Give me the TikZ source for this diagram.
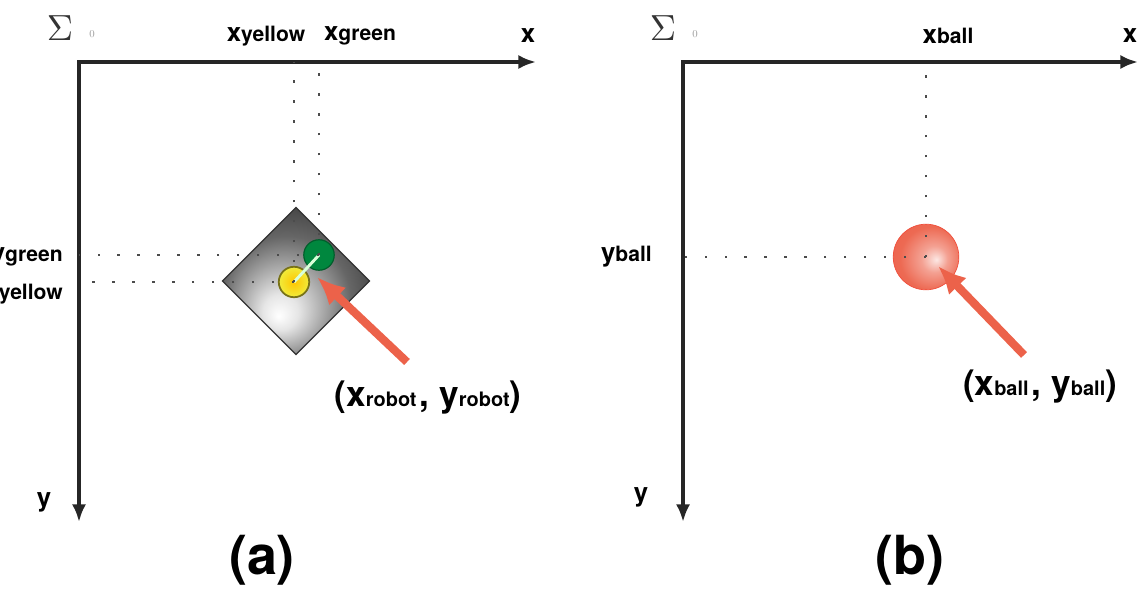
\documentclass[tikz,border=0pt]{standalone}
\usepackage{fontspec}
\setsansfont{TeX Gyre Heros}
\usetikzlibrary{arrows.meta,shapes.geometric}
\definecolor{ptred}{RGB}{236,98,74}
\definecolor{mkgreen}{RGB}{0,135,62}
\definecolor{mkyellow}{RGB}{240,236,60}
\pgfdeclareradialshading{robotshade}{\pgfpoint{-6bp}{-12bp}}{color(0bp)=(white); color(6bp)=(black!10); color(22bp)=(black!60); color(40bp)=(black!88); color(50bp)=(black!95)}
\pgfdeclareradialshading{ballshade}{\pgfpoint{8bp}{-2bp}}{color(0bp)=(ptred!15!white); color(10bp)=(ptred!60); color(24bp)=(ptred!95); color(50bp)=(ptred!85!red)}
\newcommand\axlbl[2]{{\fontsize{22}{24}\selectfont #1}{\fontsize{18}{19}\selectfont #2}}
\newcommand\ptlbl[2]{{\fontsize{30}{32}\selectfont #1}{\fontsize{17}{18}\selectfont #2}}

\begin{document}
\begin{tikzpicture}[x=0.03cm, y=-0.03cm, >={Latex[length=15pt,width=12pt]},
  axis/.style={line width=3.2pt, <->, black!85},
  guide/.style={line width=2.2pt, black!70, dash pattern=on 2pt off 15pt},
  pointer/.style={line width=7pt, ptred, -{Latex[length=24pt,width=21pt]}},
  every node/.style={font=\sffamily\bfseries, inner sep=0pt}]
  \useasboundingbox (0,0) rectangle (1139,589);
  \clip (0,0) rectangle (1139,589);
  % Panel a: robot
  \coordinate (oa) at (79,62);
  \coordinate (xa) at (536,62);
  \coordinate (ya) at (79,522);
  \draw[axis] (ya) -- (oa) -- (xa);
  \node[text=black!80] (siga) at (60,28) {\scalebox{3.1}{$\Sigma$}};
  \node[text=black!40] (suba) at (92,34) {\normalfont\fontsize{9}{10}\selectfont 0};
  \node (xlaba) at (528,36) {\axlbl{x}{}};
  \node (ylaba) at (44,502) {\axlbl{y}{}};
  \node[diamond, minimum size=126pt, draw=black!80, line width=1pt, shading=robotshade] (robot) at (296,281) {};
  \node[circle, minimum size=26pt, fill=mkgreen, draw=black!30!mkgreen, line width=1pt] (gmark) at (319,255) {};
  \node[circle, minimum size=26pt, inner color=orange!45!yellow, outer color=mkyellow, draw=olive!80!black, line width=1.5pt] (ymark) at (294,282) {};
  \draw[line width=2.5pt, green!15!white] (ymark.center) -- (gmark.center);
  \draw[guide] (gmark.center) -- (gmark.center |- oa);
  \draw[guide] (ymark.center) -- (ymark.center |- oa);
  \draw[guide] (gmark.center) -- (gmark.center -| oa);
  \draw[guide] (ymark.center) -- (ymark.center -| oa);
  \node (xyel) at (266,36) {\axlbl{x}{yellow}};
  \node (xgrn) at (360,36) {\axlbl{x}{green}};
  \node[anchor=base east] (ygrn) at (63,261) {\axlbl{y}{green}};
  \node[anchor=base east] (yyel) at (63,299) {\axlbl{y}{yellow}};
  \node (robotlbl) at (428,398) {\ptlbl{(x}{robot} \ptlbl{, y}{robot}\ptlbl{)}{}};
  \coordinate (rtail) at (407,362);
  \coordinate (rtip) at (317,277);
  \draw[pointer] (rtail) -- (rtip);
  \node (capa) at (262,560) {\fontsize{46}{48}\selectfont (a)};
  % Panel b: ball
  \begin{scope}[xshift=18.12cm]
  \coordinate (ob) at (79,62);
  \coordinate (xb) at (534,62);
  \coordinate (yb) at (79,522);
  \draw[axis] (yb) -- (ob) -- (xb);
  \node[text=black!80] (sigb) at (59,28) {\scalebox{3.1}{$\Sigma$}};
  \node[text=black!40] (subb) at (91,34) {\normalfont\fontsize{9}{10}\selectfont 0};
  \node (xlabb) at (526,36) {\axlbl{x}{}};
  \node (ylabb) at (37,497) {\axlbl{y}{}};
  \node[circle, minimum size=56pt, shading=ballshade, draw=ptred!80!red, line width=0.6pt] (ball) at (322,257) {};
  \draw[guide] (ball.center) -- (ball.center |- ob);
  \draw[guide] (ball.center) -- (ball.center -| ob);
  \node (xball) at (344,36) {\axlbl{x}{ball}};
  \node[anchor=base east] (yball) at (48,261) {\axlbl{y}{ball}};
  \node (balllbl) at (436,387) {\ptlbl{(x}{ball} \ptlbl{, y}{ball}\ptlbl{)}{}};
  \coordinate (btail) at (420,355);
  \coordinate (btip) at (334,266);
  \draw[pointer] (btail) -- (btip);
  \node (capb) at (306,560) {\fontsize{46}{48}\selectfont (b)};
  \end{scope}
\end{tikzpicture}
\end{document}
